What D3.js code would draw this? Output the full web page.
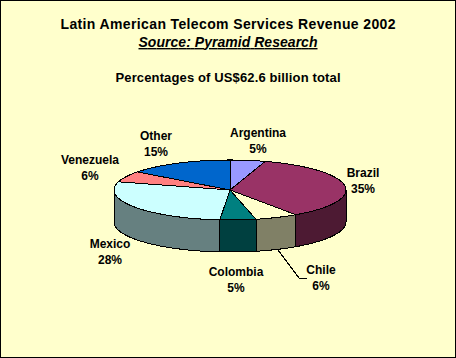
<!DOCTYPE html>
<html>
<head>
<meta charset="utf-8">
<script src="https://cdnjs.cloudflare.com/ajax/libs/d3/7.8.5/d3.min.js"></script>
<style>
html, body { margin: 0; padding: 0; background: #ffffcc; }
svg { display: block; }
text { font-family: "Liberation Sans", Arial, sans-serif; font-weight: bold; fill: #000; text-anchor: middle; }
</style>
</head>
<body>
<svg id="chart"></svg>
<script>
let width = 456;
let height = 358;

const countries = ["Argentina", "Brazil", "Chile", "Colombia", "Mexico", "Venezuela", "Other"];
// slice sizes, the labels are rounded in the original
const shares = [4.9, 35.5, 6, 5, 28, 5.9, 14.7];
const shareLabels = ["5%", "35%", "6%", "5%", "28%", "6%", "15%"];
const topColors = ["#9999ff", "#993366", "#ffffcc", "#008080", "#ccffff", "#ff8080", "#0066cc"];
const sideColors = ["#4d4d80", "#4d1a33", "#808066", "#004040", "#668080", "#804040", "#003366"];
const labelX = [258, 363, 321, 236, 110, 90, 156];
const labelY = [137, 177, 274, 276, 248, 164, 140];

let cx = 230, cy = 190, rx = 116, ry = 30, depth = 32;

let svg = d3.select("#chart")
    .attr("width", width)
    .attr("height", height);

svg.append("rect")
    .attr("x", 0.5).attr("y", 0.5)
    .attr("width", width - 1).attr("height", height - 1)
    .attr("fill", "#ffffcc")
    .attr("stroke", "black");

let titles = [
    {text: "Latin American Telecom Services Revenue 2002", x: 228, y: 29, len: 335, size: 14, italic: false},
    {text: "Source: Pyramid Research", x: 228, y: 47, len: 179, size: 14, italic: true},
    {text: "Percentages of US$62.6 billion total", x: 228, y: 82, len: 225, size: 13, italic: false}
];
svg.selectAll(".title")
    .data(titles)
    .join("text")
    .attr("class", "title")
    .attr("x", d => d.x)
    .attr("y", d => d.y)
    .attr("font-size", d => d.size)
    .attr("font-style", d => d.italic ? "italic" : "normal")
    .attr("text-decoration", d => d.italic ? "underline" : "none")
    .attr("textLength", d => d.len)
    .text(d => d.text);

// clockwise from 12 o'clock, same order as the data
let arcs = d3.pie().sort(null).value(d => d)(shares);

function rimPoint(a, dy = 0) {
    return [cx + rx * Math.sin(a), cy - ry * Math.cos(a) + dy];
}
function rim(a0, a1, dy = 0) {
    let n = Math.max(2, Math.ceil((a1 - a0) * 40));
    return d3.range(n + 1).map(i => rimPoint(a0 + (a1 - a0) * i / n, dy));
}
let line = d3.line();

// outer wall is only seen between 90 and 270 degrees
let wall = svg.append("g");
arcs.forEach((d, i) => {
    let a0 = Math.max(d.startAngle, Math.PI / 2);
    let a1 = Math.min(d.endAngle, Math.PI * 1.5);
    if (a1 <= a0) return;
    let pts = rim(a0, a1).concat(rim(a0, a1, depth).reverse());
    wall.append("path")
        .attr("d", line(pts) + "Z")
        .attr("fill", sideColors[i])
        .attr("stroke", "black")
        .attr("shape-rendering", "crispEdges");
});

svg.append("g").selectAll("path")
    .data(arcs)
    .join("path")
    .attr("d", d => line([[cx, cy]].concat(rim(d.startAngle, d.endAngle))) + "Z")
    .attr("fill", (d, i) => topColors[i])
    .attr("stroke", "black")
    .attr("shape-rendering", "crispEdges");

// leader for Chile
svg.append("path")
    .attr("d", line([[278, 250], [299, 278], [307, 278]]))
    .attr("fill", "none")
    .attr("stroke", "black")
    .attr("shape-rendering", "crispEdges");

let labels = svg.selectAll(".label")
    .data(countries)
    .join("text")
    .attr("class", "label")
    .attr("font-size", 12)
    .attr("x", (d, i) => labelX[i])
    .attr("y", (d, i) => labelY[i]);
labels.append("tspan").text(d => d);
labels.append("tspan")
    .attr("x", (d, i) => labelX[i])
    .attr("dy", 16)
    .text((d, i) => shareLabels[i]);
</script>
</body>
</html>
